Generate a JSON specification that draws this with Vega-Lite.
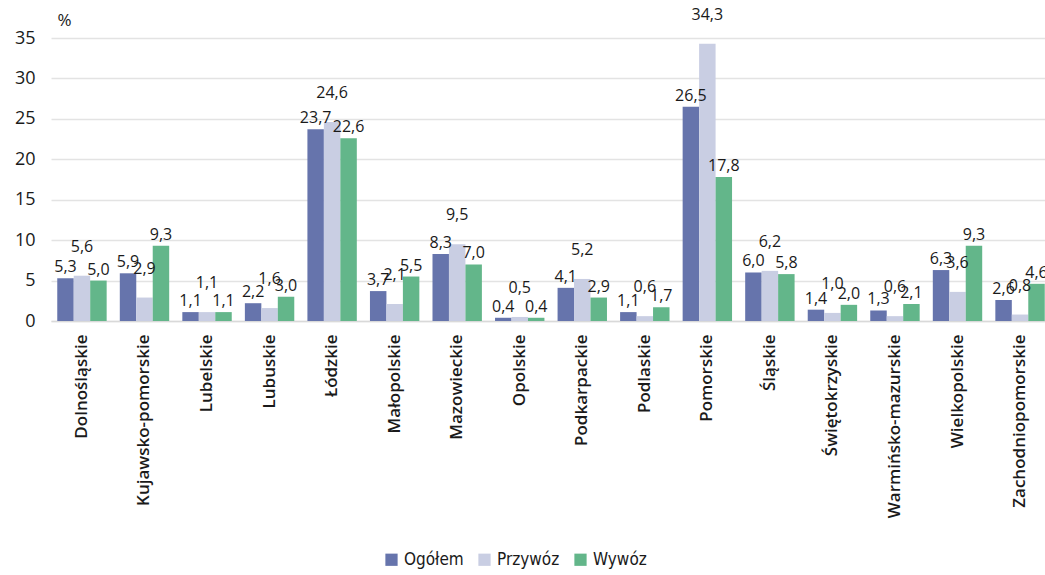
{
  "$schema": "https://vega.github.io/schema/vega-lite/v6.json",
  "autosize": "none",
  "width": 1000,
  "height": 283,
  "padding": {"left": 51, "top": 38, "right": 0, "bottom": 254},
  "background": "white",
  "config": {
    "locale": {"number": {"decimal": ",", "thousands": " ", "grouping": [3], "currency": ["", " zł"]}},
    "view": {"stroke": null},
    "font": "Open Sans"
  },
  "data": {
    "values": [
      {"region": "Dolnośląskie", "series": "Ogółem", "value": 5.3},
      {"region": "Dolnośląskie", "series": "Przywóz", "value": 5.6},
      {"region": "Dolnośląskie", "series": "Wywóz", "value": 5.0},
      {"region": "Kujawsko-pomorskie", "series": "Ogółem", "value": 5.9},
      {"region": "Kujawsko-pomorskie", "series": "Przywóz", "value": 2.9},
      {"region": "Kujawsko-pomorskie", "series": "Wywóz", "value": 9.3},
      {"region": "Lubelskie", "series": "Ogółem", "value": 1.1},
      {"region": "Lubelskie", "series": "Przywóz", "value": 1.1},
      {"region": "Lubelskie", "series": "Wywóz", "value": 1.1},
      {"region": "Lubuskie", "series": "Ogółem", "value": 2.2},
      {"region": "Lubuskie", "series": "Przywóz", "value": 1.6},
      {"region": "Lubuskie", "series": "Wywóz", "value": 3.0},
      {"region": "Łódzkie", "series": "Ogółem", "value": 23.7},
      {"region": "Łódzkie", "series": "Przywóz", "value": 24.6},
      {"region": "Łódzkie", "series": "Wywóz", "value": 22.6},
      {"region": "Małopolskie", "series": "Ogółem", "value": 3.7},
      {"region": "Małopolskie", "series": "Przywóz", "value": 2.1},
      {"region": "Małopolskie", "series": "Wywóz", "value": 5.5},
      {"region": "Mazowieckie", "series": "Ogółem", "value": 8.3},
      {"region": "Mazowieckie", "series": "Przywóz", "value": 9.5},
      {"region": "Mazowieckie", "series": "Wywóz", "value": 7.0},
      {"region": "Opolskie", "series": "Ogółem", "value": 0.4},
      {"region": "Opolskie", "series": "Przywóz", "value": 0.5},
      {"region": "Opolskie", "series": "Wywóz", "value": 0.4},
      {"region": "Podkarpackie", "series": "Ogółem", "value": 4.1},
      {"region": "Podkarpackie", "series": "Przywóz", "value": 5.2},
      {"region": "Podkarpackie", "series": "Wywóz", "value": 2.9},
      {"region": "Podlaskie", "series": "Ogółem", "value": 1.1},
      {"region": "Podlaskie", "series": "Przywóz", "value": 0.6},
      {"region": "Podlaskie", "series": "Wywóz", "value": 1.7},
      {"region": "Pomorskie", "series": "Ogółem", "value": 26.5},
      {"region": "Pomorskie", "series": "Przywóz", "value": 34.3},
      {"region": "Pomorskie", "series": "Wywóz", "value": 17.8},
      {"region": "Śląskie", "series": "Ogółem", "value": 6.0},
      {"region": "Śląskie", "series": "Przywóz", "value": 6.2},
      {"region": "Śląskie", "series": "Wywóz", "value": 5.8},
      {"region": "Świętokrzyskie", "series": "Ogółem", "value": 1.4},
      {"region": "Świętokrzyskie", "series": "Przywóz", "value": 1.0},
      {"region": "Świętokrzyskie", "series": "Wywóz", "value": 2.0},
      {"region": "Warmińsko-mazurskie", "series": "Ogółem", "value": 1.3},
      {"region": "Warmińsko-mazurskie", "series": "Przywóz", "value": 0.6},
      {"region": "Warmińsko-mazurskie", "series": "Wywóz", "value": 2.1},
      {"region": "Wielkopolskie", "series": "Ogółem", "value": 6.3},
      {"region": "Wielkopolskie", "series": "Przywóz", "value": 3.6},
      {"region": "Wielkopolskie", "series": "Wywóz", "value": 9.3},
      {"region": "Zachodniopomorskie", "series": "Ogółem", "value": 2.6},
      {"region": "Zachodniopomorskie", "series": "Przywóz", "value": 0.8},
      {"region": "Zachodniopomorskie", "series": "Wywóz", "value": 4.6}
    ]
  },
  "encoding": {
    "x": {
      "field": "region", "type": "nominal", "sort": null,
      "scale": {"paddingInner": 0.21, "paddingOuter": 0.1},
      "axis": {
        "title": null, "labelAngle": -90, "labelAlign": "right", "labelBaseline": "middle",
        "labelPadding": 13, "ticks": false, "domainColor": "#d9d9d9", "domainWidth": 1.5, "labelLimit": 400,
        "labelFont": "Open Sans", "labelFontSize": 17, "labelFontWeight": 600, "labelColor": "#1a1a1a"
      }
    },
    "xOffset": {"field": "series", "type": "nominal", "sort": ["Ogółem", "Przywóz", "Wywóz"]},
    "y": {
      "field": "value", "type": "quantitative",
      "scale": {"domain": [0, 35], "nice": false},
      "axis": {
        "title": "%", "titleAngle": 0, "titleAnchor": "end", "titleAlign": "left", "titleBaseline": "bottom",
        "titleX": 6, "titleY": -9, "titleFont": "Open Sans", "titleFontSize": 17, "titleFontWeight": "normal", "titleColor": "#1a1a1a",
        "values": [0, 5, 10, 15, 20, 25, 30, 35],
        "domain": false, "ticks": false, "labelPadding": 16,
        "gridColor": "#e3e3e3", "gridWidth": 1.5,
        "labelFont": "Open Sans", "labelFontSize": 18, "labelColor": "#1a1a1a"
      }
    }
  },
  "layer": [
    {
      "mark": {"type": "bar"},
      "encoding": {
        "color": {
          "field": "series", "type": "nominal",
          "scale": {"domain": ["Ogółem", "Przywóz", "Wywóz"], "range": ["#6674AC", "#C9CEE3", "#63B68A"]},
          "legend": {
            "title": null, "orient": "none", "direction": "horizontal", "legendX": 332, "legendY": 513,
            "symbolType": "square", "symbolSize": 150, "symbolStrokeWidth": 0, "columnPadding": 12,
            "labelFont": "DejaVu Sans Condensed", "labelFontSize": 17, "labelColor": "#1a1a1a", "labelOffset": 4
          }
        }
      }
    },
    {
      "transform": [{"filter": "datum.series !== 'Przywóz'"}],
      "mark": {"type": "text", "baseline": "bottom", "dy": -3, "fontSize": 16, "font": "Open Sans", "color": "#1a1a1a"},
      "encoding": {"text": {"field": "value", "type": "quantitative", "format": ".1f"}}
    },
    {
      "transform": [{"filter": "datum.series === 'Przywóz'"}],
      "mark": {"type": "text", "baseline": "bottom", "dy": -21, "fontSize": 16, "font": "Open Sans", "color": "#1a1a1a"},
      "encoding": {"text": {"field": "value", "type": "quantitative", "format": ".1f"}}
    }
  ]
}
